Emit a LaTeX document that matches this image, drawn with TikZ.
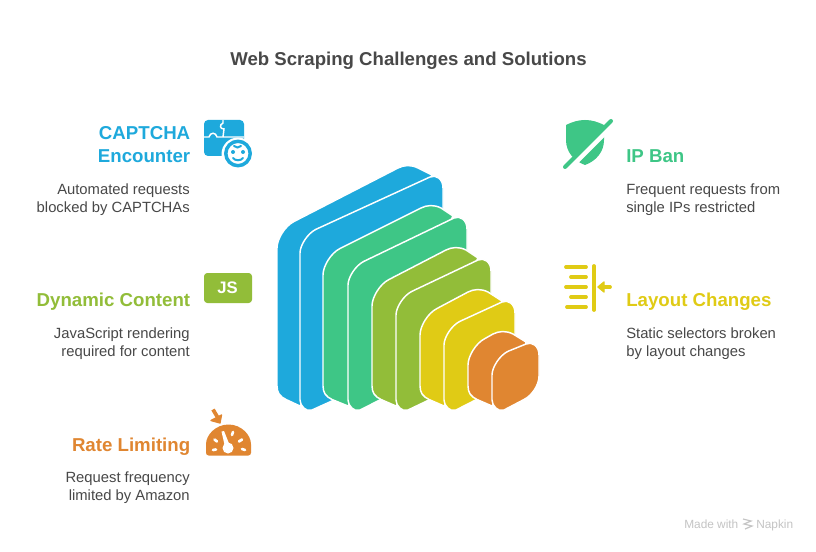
\documentclass[tikz,border=0pt]{standalone}
\usepackage{fontspec}
\setmainfont{Liberation Sans}
\usepackage{xcolor}
\definecolor{ink}{HTML}{484848}
\definecolor{blue}{HTML}{1EA9DC}
\definecolor{green}{HTML}{3EC686}
\definecolor{olive}{HTML}{92BD39}
\definecolor{yellow}{HTML}{E0CB15}
\definecolor{orange}{HTML}{E08631}
\definecolor{faint}{HTML}{C4C4C4}
\tikzset{
  titletext/.style={text=ink, anchor=base, inner sep=0pt, font=\bfseries\fontsize{13.95}{17}\selectfont},
  headleft/.style={anchor=east, align=right, inner sep=0pt, font=\bfseries\fontsize{14}{17.5}\selectfont},
  headright/.style={anchor=west, align=left, inner sep=0pt, font=\bfseries\fontsize{14}{17.5}\selectfont},
  bodyleft/.style={anchor=east, align=right, inner sep=0pt, text=ink, font=\fontsize{11.1}{13.5}\selectfont},
  bodyright/.style={anchor=west, align=left, inner sep=0pt, text=ink, font=\fontsize{11.1}{13.5}\selectfont},
  slab/.style={draw=white, line width=1.1pt, line join=round},
  bar/.style={line width=2.8pt, line cap=round},
  dial/.style={draw=white, line width=2pt, line cap=round},
  madetext/.style={text=faint, anchor=base west, inner sep=0pt, font=\fontsize{8.9}{10}\selectfont}
}
\newcommand{\BackFace}[8]{% colour,xleft,yleft,xapex,yapex,xjoin,yjoin,xfront
  \fill[#1, slab] (#2,#3+18) .. controls (#2,#3+9) and (#2+8,#3-4) .. (#2+17,#3-8.5)
    -- (#4-10,#5+5) .. controls (#4-4,#5+2) and (#4+3,#5+1.5) .. (#4+10,#5+5)
    -- (#6,#7) -- (#8+30,366) -- (#8,406) -- (#2+9,399.5)
    .. controls (#2+3,396.5) and (#2,393) .. (#2,386) -- cycle;
}
\newcommand{\FrontFace}[6]{% colour,xleft,ytop,xright,ytopright,ybottomright
  \fill[#1, slab] (#2,#3+16) .. controls (#2,#3+8) and (#2+8,#3-3.9) .. (#2+16,#3-7.7)
    -- (#4-13,#5+7) .. controls (#4-7,#5+4.2) and (#4,#5+9) .. (#4,#5+18)
    -- (#4,#6-16) .. controls (#4,#6-7) and (#4-7,#6+3.5) .. (#4-15,#6+7.5)
    -- (#2+12,410) .. controls (#2+6,412.5) and (#2,405.5) .. (#2,400) -- cycle;
}
\begin{document}
\begin{tikzpicture}[x=0.75pt,y=-0.75pt]
  \useasboundingbox (0,0) rectangle (816,552);
  \fill[white] (0,0) rectangle (816,552);
  \node[titletext] (title) at (408.5,66) {Web Scraping Challenges and Solutions};

  % Slabs, back to front
  \BackFace{blue}{277}{230}{408}{163}{432}{175}{300}
  \FrontFace{blue}{300}{237}{443}{170}{350}
  \BackFace{green}{323}{257}{431}{203}{453}{216}{348}
  \FrontFace{green}{348}{269}{467}{211}{356}
  \BackFace{olive}{372}{288}{456}{245}{478}{258}{396}
  \FrontFace{olive}{396}{299}{491}{253}{370}
  \BackFace{yellow}{420}{317}{478}{287}{502}{301}{444}
  \FrontFace{yellow}{444}{329}{515}{295}{380}
  \BackFace{orange}{468}{347}{503}{329}{526}{342}{492}
  \FrontFace{orange}{492}{359}{539}{337}{392}

  % Left column
  \node[headleft, text=blue] (captchahead) at (190.5,144.5) {CAPTCHA\\Encounter};
  \node[bodyleft] (captchabody) at (190,200) {Automated requests\\blocked by CAPTCHAs};
  \node[headleft, text=olive] (dynamichead) at (190.5,302) {Dynamic Content};
  \node[bodyleft] (dynamicbody) at (190,344) {JavaScript rendering\\required for content};
  \node[headleft, text=orange] (ratehead) at (190.5,446.5) {Rate Limiting};
  \node[bodyleft] (ratebody) at (190,488) {Request frequency\\limited by Amazon};

  % Right column
  \node[headright, text=green] (iphead) at (626,156) {IP Ban};
  \node[bodyright] (ipbody) at (626,200) {Frequent requests from\\single IPs restricted};
  \node[headright, text=yellow] (layouthead) at (626,302) {Layout Changes};
  \node[bodyright] (layoutbody) at (626,344) {Static selectors broken\\by layout changes};

  % Puzzle and face
  \fill[blue, rounded corners=3pt] (204,120) rectangle (244,156);
  \draw[white, line width=1.1pt] (204,137) -- (209,137) .. controls (210,132) and (216,132) .. (217,137) -- (244,137);
  \draw[white, line width=1.1pt] (223,120) -- (223,123) .. controls (219,125) and (220,129) .. (224,129) -- (223,137);
  \fill[white] (238,154) circle (16.5);
  \draw[blue, line width=2.6pt] (238,153.5) circle (12.2);
  \fill[blue] (233,152) circle (2) (243,152) circle (2);
  \draw[blue, line width=1.5pt, line cap=round] (233,158) .. controls (235,161) and (241,161) .. (243,158);
  \draw[blue, line width=1.5pt, line cap=round] (234,146) .. controls (236,148) and (239,148) .. (241,146);

  % JS badge
  \fill[olive, rounded corners=2.5pt] (204,273) rectangle (252,303);
  \node[text=white, inner sep=0pt, font=\bfseries\fontsize{12.5}{15}\selectfont] (jsbadge) at (227.5,288) {JS};

  % Gauge
  \fill[orange, rounded corners=2pt] (206,455.5) -- (206,447) arc[start angle=180, end angle=360, radius=22.5] -- (251,455.5) -- cycle;
  \draw[dial] (213,450) -- (216,449.5);
  \draw[dial] (214.5,439.5) -- (217,441.5);
  \draw[dial] (233,432) -- (232,435);
  \draw[dial] (242,439.5) -- (239,441.5);
  \draw[dial] (242,449) -- (245,450);
  \fill[white] (228,448) circle (5.5);
  \fill[white] (221.5,431.5) -- (224,431) -- (230,446) -- (225,447) -- cycle;
  \draw[orange, line width=2.8pt] (213,409.5) -- (218,418);
  \fill[orange, draw=orange, line join=round, line width=1pt] (211,420.5) -- (221.5,415) -- (220,423) -- cycle;

  % Shield
  \fill[green] (566,125) .. controls (572,122) and (578,120) .. (585,120) .. controls (592,120) and (598,122) .. (604,125)
    -- (604,140) .. controls (604,152) and (596,161) .. (585,165) .. controls (574,161) and (566,152) .. (566,140) -- cycle;
  \draw[white, line width=4pt] (562,175.5) -- (617,120.5);
  \draw[green, line width=3pt, line cap=round] (565,167) -- (611,121);

  % Alignment bars
  \draw[yellow, bar] (566,267) -- (586,267);
  \draw[yellow, bar] (571,277) -- (586,277);
  \draw[yellow, bar] (566,287) -- (586,287);
  \draw[yellow, bar] (571,297) -- (586,297);
  \draw[yellow, bar] (567,307) -- (586,307);
  \draw[yellow, bar] (594,266) -- (594,310);
  \draw[yellow, bar] (604,287) -- (610,287);
  \fill[yellow, draw=yellow, line join=round, line width=1pt] (598,287) -- (604,282) -- (604,292) -- cycle;

  % Maker mark
  \node[madetext] (madewith) at (684,528) {Made with};
  \node[madetext] (napkin) at (756,528) {Napkin};
  \draw[faint, line width=0.9pt] (743,519) -- (751,521) -- (744,524) -- (752,526) -- (745,529);
\end{tikzpicture}
\end{document}
